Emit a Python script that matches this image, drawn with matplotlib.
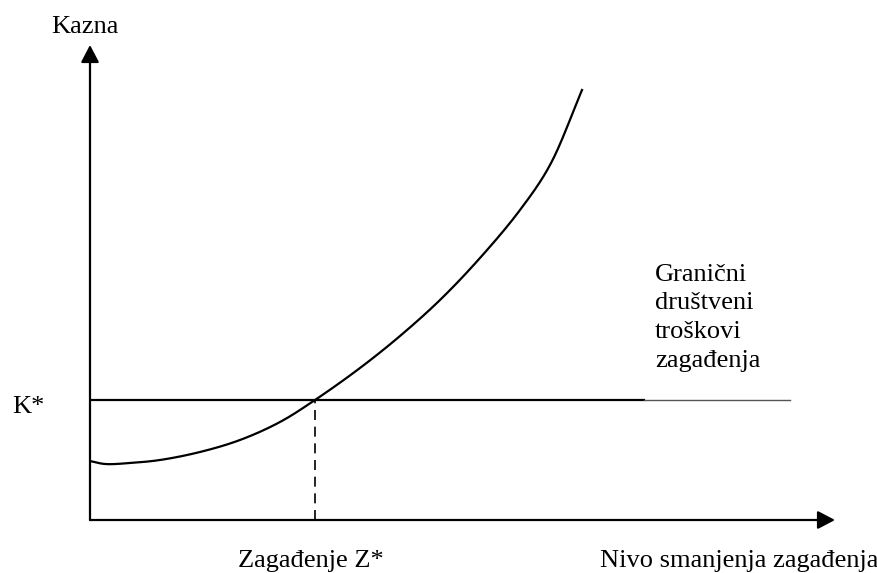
import matplotlib
matplotlib.use("Agg")
import matplotlib.pyplot as plt
import numpy as np

# Data (abstract units: x = pollution-reduction level, y = penalty)
curve_x = [0, 15, 40, 70, 110, 150, 190, 225, 270, 310, 350, 390, 430, 460, 492]
curve_y = [59, 56, 57, 60, 68, 80, 98, 120, 152, 184, 220, 262, 310, 355, 430]
k_star = 120
z_star = 225
line_end_dark = 554
line_end_light = 700

x_label = "Nivo smanjenja zagađenja"
y_label = "Kazna"
z_label = "Zagađenje Z*"
k_label = "K*"
curve_label = "Granični\ndruštveni\ntroškovi\nzagađenja"

W, H = 878, 573
fig = plt.figure(figsize=(W / 100, H / 100), dpi=100)
x0, y0 = 90, 520
xmax_px, ymax_px = 835, 45
ax = fig.add_axes([x0 / W, (H - y0) / H, (xmax_px - x0) / W, (y0 - ymax_px) / H])
ax.set_xlim(0, xmax_px - x0)
ax.set_ylim(0, y0 - ymax_px)
ax.axis("off")

font = dict(family="Liberation Serif", size=19, color="black")

# axes with arrows
arrow = dict(arrowstyle="-|>,head_length=1.05,head_width=0.55", lw=1.6, color="black",
             shrinkA=0, shrinkB=0)
ax.annotate("", xy=(xmax_px - x0, 0), xytext=(0, 0), arrowprops=arrow, annotation_clip=False)
ax.annotate("", xy=(0, y0 - ymax_px), xytext=(0, 0), arrowprops=arrow, annotation_clip=False)

# smooth curve: centripetal Catmull-Rom through the read points
P = np.column_stack([curve_x, curve_y]).astype(float)
P = np.vstack([2 * P[0] - P[1], P, 2 * P[-1] - P[-2]])
pts = []
alpha = 0.5
for i in range(1, len(P) - 2):
    p0, p1, p2, p3 = P[i - 1], P[i], P[i + 1], P[i + 2]
    t0 = 0.0
    t1 = t0 + np.linalg.norm(p1 - p0) ** alpha
    t2 = t1 + np.linalg.norm(p2 - p1) ** alpha
    t3 = t2 + np.linalg.norm(p3 - p2) ** alpha
    for t in np.linspace(t1, t2, 30, endpoint=False):
        a1 = (t1 - t) / (t1 - t0) * p0 + (t - t0) / (t1 - t0) * p1
        a2 = (t2 - t) / (t2 - t1) * p1 + (t - t1) / (t2 - t1) * p2
        a3 = (t3 - t) / (t3 - t2) * p2 + (t - t2) / (t3 - t2) * p3
        b1 = (t2 - t) / (t2 - t0) * a1 + (t - t0) / (t2 - t0) * a2
        b2 = (t3 - t) / (t3 - t1) * a2 + (t - t1) / (t3 - t1) * a3
        pts.append((t2 - t) / (t2 - t1) * b1 + (t - t1) / (t2 - t1) * b2)
pts.append(P[-2])
pts = np.array(pts)
ax.plot(pts[:, 0], pts[:, 1], color="black", lw=1.6)

# K* horizontal line
ax.plot([0, line_end_dark], [k_star, k_star], color="black", lw=1.6)
ax.plot([line_end_dark, line_end_light], [k_star, k_star], color="#555555", lw=1.0)

# dashed vertical at Z*
ax.plot([z_star, z_star], [0, k_star], color="black", lw=1.2, linestyle=(0, (6, 4)))

# texts
ax.text(-5.5, 487, y_label, ha="center", va="baseline", **font)
ax.text(-78, 107, k_label, ha="left", va="baseline", **font)
ax.text(221, -47, z_label, ha="center", va="baseline", **font)
ax.text(510, -47, x_label, ha="left", va="baseline", **font)
ax.text(565, 153, curve_label, ha="left", va="baseline", linespacing=1.4, **font)

fig.savefig("out.png", dpi=100)
